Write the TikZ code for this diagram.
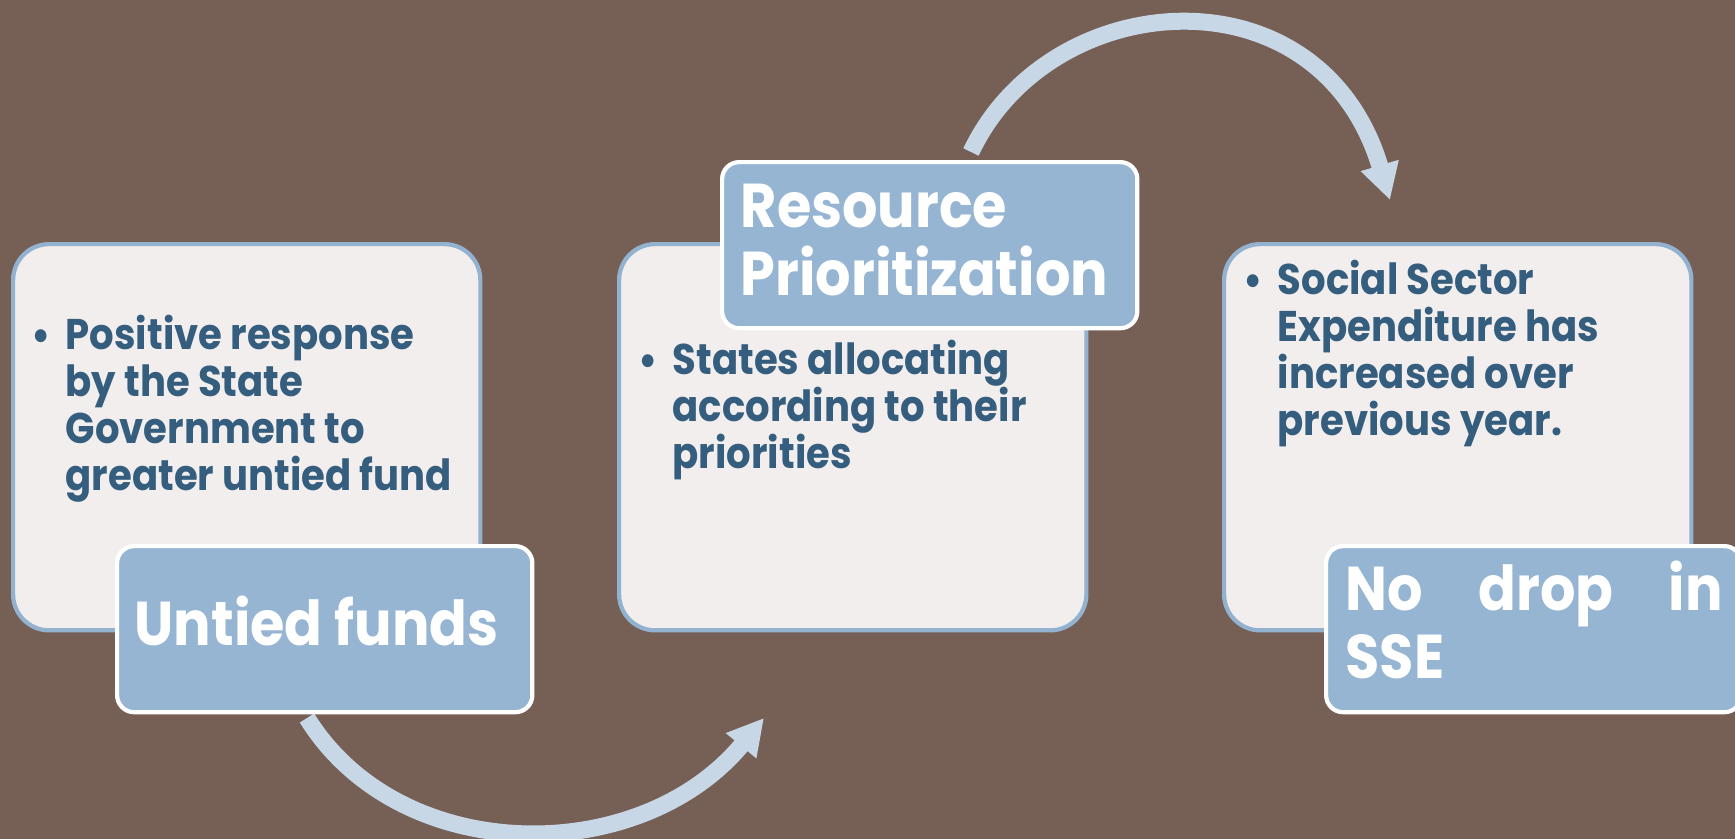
\documentclass[tikz,border=0pt]{standalone}
\usepackage{fontspec}
\setmainfont{Poppins}[FakeStretch=0.9]
\usetikzlibrary{arrows.meta}
\definecolor{bgbrown}{HTML}{765F55}
\definecolor{boxfill}{HTML}{F1EEED}
\definecolor{boxline}{HTML}{92B2D0}
\definecolor{labfill}{HTML}{95B5D3}
\definecolor{txtblue}{HTML}{355D7E}
\definecolor{arrowblue}{HTML}{C7D7E6}
\begin{document}
\begin{tikzpicture}[x=0.01cm,y=-0.01cm,
 bigbox/.style={draw=boxline, line width=1.2pt, fill=boxfill, rounded corners=0.36cm, minimum width=4.67cm, minimum height=3.86cm, anchor=north west, inner sep=0},
 labbox/.style={draw=white, line width=1.2pt, fill=labfill, rounded corners=0.17cm, minimum width=4.15cm, minimum height=1.66cm, anchor=north west, inner sep=0},
 bodytext/.style={anchor=base west, inner sep=0, align=left, text=txtblue, font=\bfseries\fontsize{12.2}{13.3}\selectfont},
 bulletmark/.style={anchor=base west, inner sep=0, text=txtblue, font=\bfseries\fontsize{12.2}{13.3}\selectfont},
 labtext/.style={anchor=base west, inner sep=0, align=left, text=white, font=\bfseries\fontsize{17.6}{19.1}\selectfont},
 flow/.style={draw=arrowblue, line width=0.17cm, -{Triangle[length=0.36cm,width=0.37cm]}}
]
\clip (0,0) rectangle (1735,839);
\fill[bgbrown] (0,0) rectangle (1735,839);

% connectors
\coordinate (a1s) at (307,718);
\coordinate (a1e) at (764,718);
\coordinate (a2s) at (971,152);
\coordinate (a2e) at (1390,200);
\draw[flow] (a1s) .. controls (400,868) and (640,868) .. (a1e);
\draw[flow] (a2s) .. controls (1050,-15) and (1320,-35) .. (a2e);

% boxes
\node[bigbox] (B1) at (11,242) {};
\node[bigbox] (B2) at (617,242) {};
\node[bigbox] (B3) at (1222,242) {};

\node[bulletmark] (d1) at (31,350) {•};
\node[bodytext] (t1) at (65,490) {Positive response\\by the State\\Government to\\greater untied fund};
\node[bulletmark] (d2) at (638,375) {•};
\node[bodytext] (t2) at (672,468) {States allocating\\according to their\\priorities};
\node[bulletmark] (d3) at (1243,295) {•};
\node[bodytext] (t3) at (1277,435) {Social Sector\\Expenditure has\\increased over\\previous year.};

\node[labbox] (L1) at (115,544) {};
\node[labbox] (L2) at (720,160) {};
\node[labbox] (L3) at (1324,544) {};

\node[labtext] (u1) at (134,645) {Untied funds};
\node[labtext] (u2) at (740,295) {Resource\\Prioritization};
\node[labtext] (u3) at (1345,678) {\makebox[3.77cm][s]{No\hfill drop\hfill in}\\SSE};
\end{tikzpicture}
\end{document}
